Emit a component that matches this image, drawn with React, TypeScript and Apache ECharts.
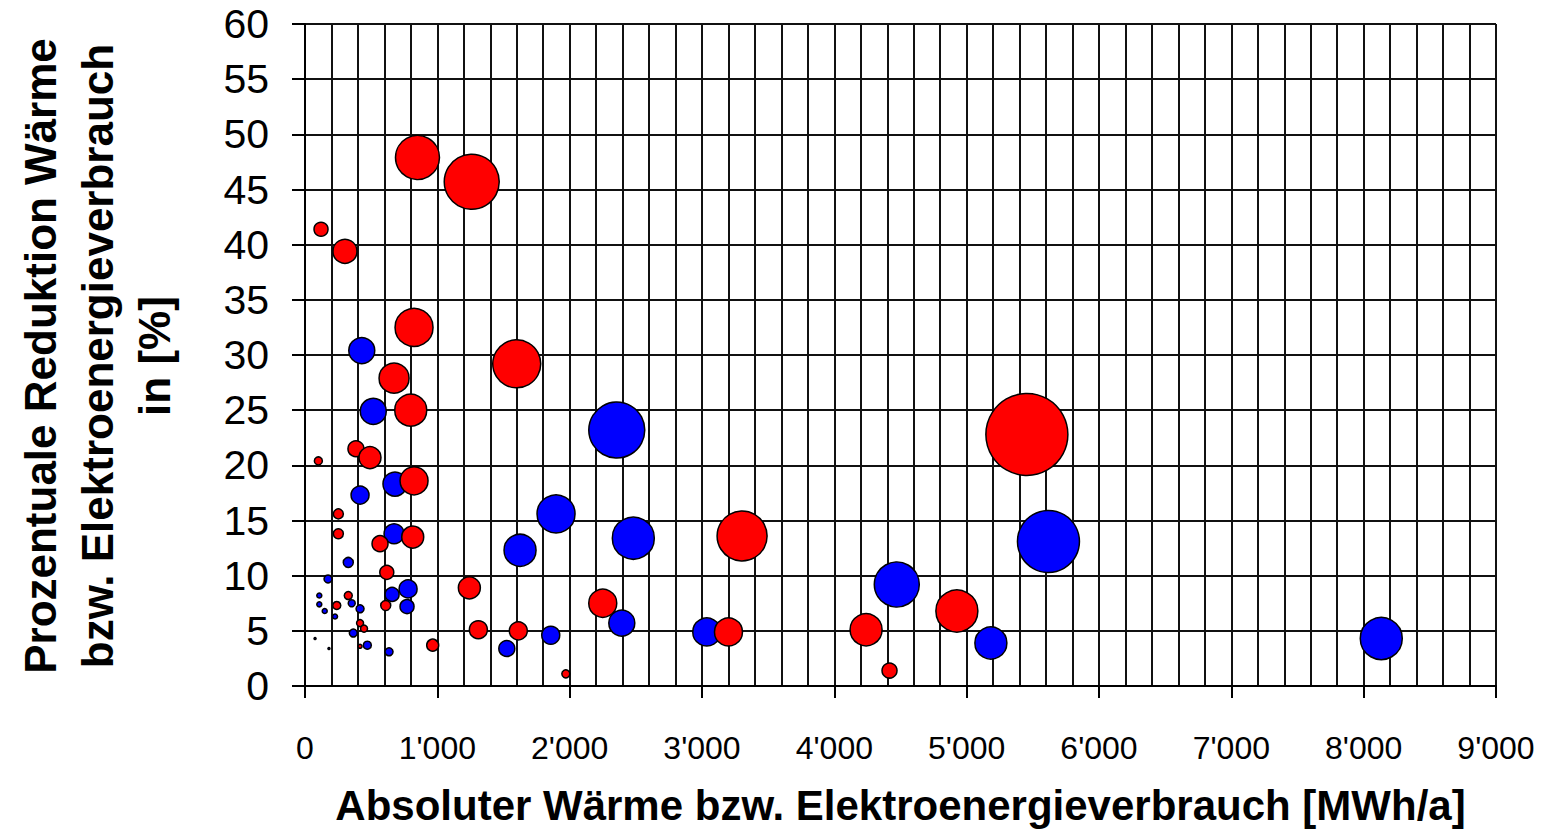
import React, { useEffect, useRef } from "react";
import * as echarts from "echarts";

// [x: absolute consumption MWh/a, y: reduction %, bubble value]
const heatPoints: number[][] = [
  [850, 47.9, 44], [1260, 45.7, 55], [121, 41.4, 14], [302, 39.4, 24],
  [824, 32.5, 38], [1600, 29.2, 48], [673, 27.9, 30], [799, 25.0, 32],
  [5455, 22.8, 82], [385, 21.5, 16], [491, 20.7, 22], [101, 20.4, 8],
  [824, 18.6, 28], [252, 15.6, 10], [3303, 13.6, 50], [814, 13.5, 22],
  [252, 13.8, 10], [567, 12.9, 16], [618, 10.3, 14], [1242, 8.9, 22],
  [2250, 7.5, 28], [4926, 6.8, 42], [610, 7.3, 10], [240, 7.3, 8],
  [327, 8.2, 8], [416, 5.7, 7], [446, 5.2, 7], [416, 3.6, 4],
  [1310, 5.1, 18], [1612, 5.0, 18], [4240, 5.1, 32], [3200, 4.9, 28],
  [965, 3.7, 12], [4417, 1.4, 15], [1971, 1.1, 8],
];

const electricityPoints: number[][] = [
  [429, 30.4, 26], [516, 24.9, 26], [2356, 23.2, 56], [680, 18.3, 24],
  [416, 17.3, 18], [1897, 15.6, 38], [2481, 13.4, 42], [1625, 12.3, 32],
  [5618, 13.1, 62], [673, 13.8, 20], [327, 11.2, 10], [174, 9.7, 8],
  [4472, 9.2, 45], [779, 8.8, 18], [658, 8.3, 14], [771, 7.2, 14],
  [108, 8.2, 5], [108, 7.4, 5], [149, 6.8, 5], [227, 6.3, 5],
  [353, 7.5, 7], [416, 7.0, 8], [365, 4.8, 8], [471, 3.7, 8],
  [635, 3.1, 8], [2394, 5.7, 26], [1525, 3.4, 16], [1857, 4.6, 18],
  [3036, 4.9, 28], [5183, 3.9, 32], [8133, 4.3, 42], [76, 4.3, 2],
  [181, 3.4, 2],
];

const xTickLabels: string[] = [
  "0", "1'000", "2'000", "3'000", "4'000", "5'000", "6'000", "7'000", "8'000", "9'000",
];

const xTitle = "Absoluter Wärme bzw. Elektroenergieverbrauch [MWh/a]";
const yTitleLines: string[] = [
  "Prozentuale Reduktion Wärme",
  "bzw. Elektroenergieverbrauch",
  "in [%]",
];

export default function App() {
  const ref = useRef<HTMLDivElement>(null);

  useEffect(() => {
    if (!ref.current) return;
    const chart = echarts.init(ref.current, undefined, { renderer: "svg" });
    const gridColor = "#111";
    chart.setOption({
      animation: false,
      backgroundColor: "#ffffff",
      grid: { left: 305, right: 67, top: 24, bottom: 143, containLabel: false },
      xAxis: {
        type: "value",
        min: 0,
        max: 9000,
        interval: 1000,
        name: xTitle,
        nameLocation: "middle",
        nameGap: 98,
        nameTextStyle: {
          fontFamily: "Liberation Sans, Arial, sans-serif",
          fontWeight: "bold",
          fontSize: 42,
          color: "#000",
        },
        axisLine: { show: true, lineStyle: { color: "#000", width: 2 } },
        axisTick: { show: true, length: 12, lineStyle: { color: "#000", width: 2 } },
        axisLabel: {
          margin: 46,
          fontSize: 32,
          color: "#000",
          fontFamily: "Liberation Sans, Arial, sans-serif",
          formatter: (v: number) => xTickLabels[Math.round(v / 1000)] ?? "",
        },
        splitLine: { show: true, lineStyle: { color: gridColor, width: 2 } },
        minorTick: { show: false, splitNumber: 5 },
        minorSplitLine: { show: true, lineStyle: { color: gridColor, width: 2 } },
      },
      yAxis: {
        type: "value",
        min: 0,
        max: 60,
        interval: 5,
        axisLine: { show: true, lineStyle: { color: "#000", width: 2 } },
        axisTick: { show: true, length: 13, lineStyle: { color: "#000", width: 2 } },
        axisLabel: {
          margin: 36,
          fontSize: 41,
          color: "#000",
          fontFamily: "Liberation Sans, Arial, sans-serif",
        },
        splitLine: { show: true, lineStyle: { color: gridColor, width: 2 } },
      },
      graphic: [
        {
          type: "text",
          x: 97,
          y: 356,
          rotation: Math.PI / 2,
          style: {
            text: yTitleLines.join("\n"),
            fontFamily: "Liberation Sans, Arial, sans-serif",
            fontWeight: "bold",
            fontSize: 44,
            lineHeight: 57,
            fill: "#000",
            align: "center",
            verticalAlign: "middle",
          },
        },
      ],
      series: [
        {
          name: "Elektroenergie",
          type: "scatter",
          data: electricityPoints,
          symbol: "circle",
          symbolSize: (v: number[]) => v[2],
          itemStyle: { color: "#0000ff", borderColor: "#000", borderWidth: 1.5, opacity: 1 },
        },
        {
          name: "Wärme",
          type: "scatter",
          data: heatPoints,
          symbol: "circle",
          symbolSize: (v: number[]) => v[2],
          itemStyle: { color: "#ff0000", borderColor: "#000", borderWidth: 1.5, opacity: 1 },
        },
      ],
    });
    return () => chart.dispose();
  }, []);

  return (
    <div
      ref={ref}
      style={{ position: "fixed", left: 0, top: 0, width: 1563, height: 831, background: "#fff" }}
    />
  );
}
